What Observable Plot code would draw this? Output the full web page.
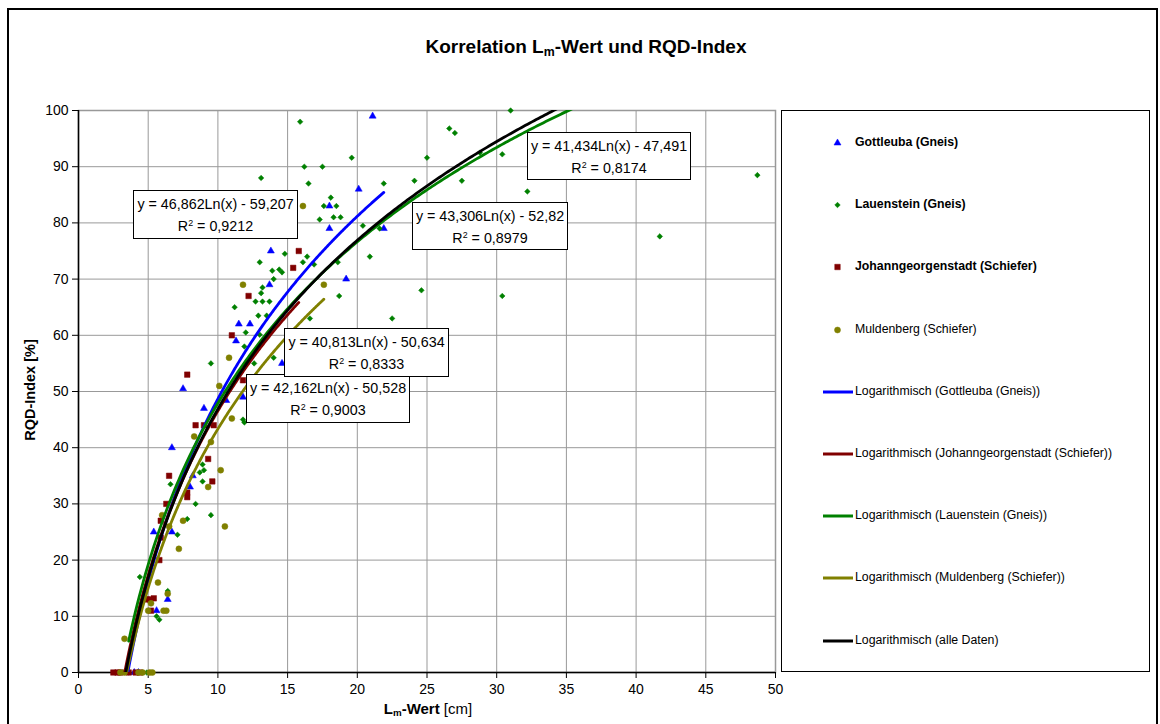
<!DOCTYPE html>
<html>
<head>
<meta charset="utf-8">
<script src="https://cdn.jsdelivr.net/npm/d3@7"></script>
<script src="https://cdn.jsdelivr.net/npm/@observablehq/plot@0.6"></script>
<style>
  body { margin: 0; background: #fff; font-family: "Liberation Sans", Arial, sans-serif; }
  #wrap { position: relative; width: 1160px; height: 724px; overflow: hidden; background: #fff; }
  #frame { position: absolute; left: 7px; top: 8px; width: 1147px; height: 800px; border: 2px solid #000; }
  #title { position: absolute; left: 0; width: 1172px; top: 36px; text-align: center; font-weight: bold; font-size: 19px; color: #000; }
  #title sub, #xlabel sub { font-size: 0.65em; vertical-align: -0.25em; }
  #chart { position: absolute; left: 0; top: 0; }
  #ylabel { position: absolute; left: 30px; top: 390px; transform: translate(-50%, -50%) rotate(-90deg); font-weight: bold; font-size: 14.5px; white-space: nowrap; }
  #xlabel { position: absolute; left: 428px; top: 709px; transform: translate(-50%, -50%); font-size: 15px; white-space: nowrap; }
  .eq { position: absolute; background: #fff; border: 1px solid #000; font-size: 14.3px; text-align: center; line-height: 22px; padding-top: 2px; box-sizing: border-box; white-space: nowrap; }
  .eq sup { font-size: 0.62em; vertical-align: 0.55em; line-height: 0; }
  #legend { position: absolute; left: 781px; top: 110px; width: 369px; height: 562px; border: 1px solid #000; box-sizing: border-box; background: #fff; }
  .li { position: absolute; left: 0; height: 16px; font-size: 12.3px; white-space: nowrap; }
  .li svg { position: absolute; left: 40px; top: 0; }
  .li span { position: absolute; left: 73px; top: 0px; }
</style>
</head>
<body>
<div id="wrap">
  <div id="frame"></div>
  <div id="title">Korrelation L<sub>m</sub>-Wert und RQD-Index</div>
  <div id="chart"></div>
  <div id="ylabel">RQD-Index [%]</div>
  <div id="xlabel"><b>L<sub>m</sub>-Wert</b> [cm]</div>
  <div id="legend"></div>
</div>
<script>
// ---------- data ----------
const gottleubaX = [21.1, 20.1, 18.0, 18.0, 21.9, 19.2, 13.8, 13.7, 11.5, 12.3, 11.3, 14.6, 7.5, 10.6, 11.8, 9.0, 6.7, 8.2, 8.0, 5.4, 6.7, 6.4, 5.6, 3.5, 4.0, 4.3];
const gottleubaY = [99, 86, 83, 79, 79, 70, 75, 69, 62, 62, 59, 55, 50.5, 48.4, 49, 47, 40, 35, 33, 25, 25, 13, 11, 0, 0, 0];

const lauensteinX = [31.0, 15.9, 26.6, 27.0, 19.6, 25.0, 16.2, 17.5, 30.4, 28.8, 13.1, 16.5, 21.9, 24.1, 27.5, 32.2, 48.7, 41.7, 18.1, 17.6, 18.5, 18.3, 18.8, 17.3, 20.4, 21.6, 14.8, 16.4, 16.1, 16.9, 18.6, 20.9, 13.0, 14.6, 13.9, 14.4, 14.0, 13.2, 13.1, 18.7, 24.6, 30.4, 22.5, 16.6, 12.7, 13.2, 13.7, 11.2, 12.9, 13.5, 12.0, 13.0, 11.9, 12.6, 14.0, 9.5, 11.8, 11.9, 8.9, 9.0, 8.7, 6.6, 8.9, 8.4, 9.5, 7.8, 7.1, 4.4, 6.4, 5.6, 5.8, 3.6, 4.9];
const lauensteinY = [100, 98, 96.8, 96, 91.6, 91.6, 90, 90, 92.2, 92.5, 88, 87, 87, 87.5, 87.5, 85.6, 88.5, 77.6, 84.5, 83, 83, 81, 81, 80.6, 79.5, 79, 74.5, 74, 73, 72.6, 73, 74, 73, 71.2, 71.5, 71.7, 70, 68.5, 67.5, 67, 68, 67, 63, 63, 66, 66, 66, 65, 63.5, 63.5, 60.5, 60.1, 58, 55, 56, 55, 45, 44.5, 37, 36, 35.6, 33.5, 34, 30, 28, 27.3, 24.5, 17, 14.5, 10, 9.4, 0, 0];

const johannX = [15.8, 15.4, 12.2, 11.0, 7.8, 11.8, 8.4, 9.0, 9.7, 9.3, 6.5, 9.6, 7.8, 7.8, 6.3, 5.9, 5.9, 5.8, 5.4, 5.1, 4.9, 5.2, 2.5, 2.8, 3.0, 3.6, 4.1, 4.4];
const johannY = [75, 72, 67, 60, 53, 52, 44, 44, 44, 38, 35, 34, 31.2, 32, 30, 27, 24, 20, 13.2, 13, 13, 11, 0, 0, 0, 0, 0, 0];

const muldenbergX = [16.1, 11.8, 17.6, 10.8, 10.1, 11.0, 8.3, 9.5, 10.2, 9.3, 10.5, 7.2, 7.5, 6.0, 6.5, 5.7, 5.2, 5.0, 6.1, 6.3, 6.4, 3.3, 3.0, 3.3, 4.3, 4.6, 5.1, 5.3];
const muldenbergY = [83, 69, 69, 56, 51, 45.2, 42, 41, 36, 33, 26, 22, 27, 28, 26, 16, 12.3, 11, 11, 11, 14, 6, 0, 0, 0, 0, 0, 0];

const seriesNames = ["Gottleuba (Gneis)", "Lauenstein (Gneis)", "Johanngeorgenstadt (Schiefer)", "Muldenberg (Schiefer)"];
const seriesColors = ["#0000ff", "#008000", "#800000", "#808000"];
const seriesSymbols = ["triangle", "diamond2", "square", "circle"];
const seriesR = [2.6, 2.5, 3.1, 3.0];

// trendlines (Logarithmisch): y = a*Ln(x) + b
const fitNames = ["Gottleuba (Gneis)", "Johanngeorgenstadt (Schiefer)", "Lauenstein (Gneis)", "Muldenberg (Schiefer)", "alle Daten"];
const fitA = [46.862, 42.162, 41.434, 40.813, 43.306];
const fitB = [-59.207, -50.528, -47.491, -50.634, -52.82];
const fitR2 = ["0,9212", "0,9003", "0,8174", "0,8333", "0,8979"];
const fitColors = ["#0000ff", "#800000", "#008000", "#808000", "#000000"];

const xTicks = [0, 5, 10, 15, 20, 25, 30, 35, 40, 45, 50];
const yTicks = [0, 10, 20, 30, 40, 50, 60, 70, 80, 90, 100];

// ---------- build tables ----------
const seriesXs = [gottleubaX, lauensteinX, johannX, muldenbergX];
const seriesYs = [gottleubaY, lauensteinY, johannY, muldenbergY];
const points = [];
seriesNames.forEach((name, i) => {
  seriesXs[i].forEach((x, j) => points.push({series: name, idx: i, x, y: seriesYs[i][j]}));
});

const fitSource = {
  "Gottleuba (Gneis)": gottleubaX,
  "Johanngeorgenstadt (Schiefer)": johannX,
  "Lauenstein (Gneis)": lauensteinX,
  "Muldenberg (Schiefer)": muldenbergX,
  "alle Daten": [].concat(gottleubaX, lauensteinX, johannX, muldenbergX)
};
const fitLines = fitNames.map((name, k) => {
  const xs = fitSource[name];
  const lo = d3.min(xs), hi = d3.max(xs), n = 300;
  return d3.range(n + 1).map(i => {
    const x = lo + (hi - lo) * i / n;
    return {fit: name, x, y: fitA[k] * Math.log(x) + fitB[k]};
  });
});

// ---------- plot ----------
const marks = [
  Plot.gridX(xTicks, {stroke: "#999", strokeOpacity: 1, strokeWidth: 1}),
  Plot.gridY(yTicks, {stroke: "#999", strokeOpacity: 1, strokeWidth: 1}),
  Plot.frame({stroke: "#999", strokeWidth: 1.5}),
  Plot.axisX({ticks: xTicks, tickSize: 6, tickPadding: 6, label: null, fontSize: 14}),
  Plot.axisY({ticks: yTicks, tickSize: 6, tickPadding: 4, label: null, fontSize: 14}),
  Plot.ruleX([0], {stroke: "#000", strokeWidth: 1.5}),
  Plot.ruleY([0], {stroke: "#000", strokeWidth: 1.5})
];
seriesNames.forEach((name, i) => {
  marks.push(Plot.dot(points.filter(d => d.idx === i), {
    x: "x", y: "y", symbol: () => seriesSymbols[i], r: seriesR[i],
    fill: seriesColors[i], stroke: seriesColors[i], strokeWidth: 0.5
  }));
});
fitLines.forEach((line, k) => {
  marks.push(Plot.line(line, {x: "x", y: "y", stroke: fitColors[k], strokeWidth: 2.8, clip: true}));
});

const chart = Plot.plot({
  width: 780, height: 724,
  marginLeft: 78, marginRight: 5, marginTop: 110, marginBottom: 52,
  x: {domain: [0, 50]},
  y: {domain: [0, 100]},
  symbol: {type: "identity"},
  style: {fontFamily: "'Liberation Sans', Arial, sans-serif", fontSize: "14px", background: "transparent", color: "#000", overflow: "visible"},
  marks
});
document.getElementById("chart").appendChild(chart);

// ---------- equation labels ----------
const eqLayout = {
  "Gottleuba (Gneis)": [133, 190, 165, 49],
  "alle Daten": [412, 202, 156, 48],
  "Lauenstein (Gneis)": [527, 132, 164, 48],
  "Johanngeorgenstadt (Schiefer)": [246, 374, 164, 49],
  "Muldenberg (Schiefer)": [284, 328, 165, 49]
};
const fmt = v => String(v).replace(".", ",");
const eqOrder = ["Gottleuba (Gneis)", "alle Daten", "Lauenstein (Gneis)", "Johanngeorgenstadt (Schiefer)", "Muldenberg (Schiefer)"];
const wrap = document.getElementById("wrap");
eqOrder.forEach(name => {
  const k = fitNames.indexOf(name);
  const [l, t, w, h] = eqLayout[name];
  const div = document.createElement("div");
  div.className = "eq";
  div.style.left = l + "px"; div.style.top = t + "px";
  div.style.width = w + "px"; div.style.height = h + "px";
  div.innerHTML = `y = ${fmt(fitA[k])}Ln(x) - ${fmt(Math.abs(fitB[k]))}<br>R<sup>2</sup> = ${fitR2[k]}`;
  wrap.insertBefore(div, document.getElementById("ylabel"));
});

// ---------- legend ----------
const legend = document.getElementById("legend");
const legendItems = [
  ...seriesNames.map((n, i) => ({label: n, type: "dot", i, bold: i < 3})),
  ...["Gottleuba (Gneis)", "Johanngeorgenstadt (Schiefer)", "Lauenstein (Gneis)", "Muldenberg (Schiefer)", "alle Daten"]
    .map(n => ({label: `Logarithmisch (${n})`, type: "line", k: fitNames.indexOf(n)}))
];
const symMap = {triangle: d3.symbolTriangle, diamond2: d3.symbolDiamond2, square: d3.symbolSquare, circle: d3.symbolCircle};
legendItems.forEach((it, j) => {
  const row = document.createElement("div");
  row.className = "li";
  row.style.top = (24 + j * 62.2) + "px";
  row.style.width = "360px";
  let svg;
  if (it.type === "dot") {
    const r = seriesR[it.i];
    const p = d3.symbol(symMap[seriesSymbols[it.i]], Math.PI * r * r)();
    svg = `<svg width="32" height="16"><path transform="translate(15.5,8)" d="${p}" fill="${seriesColors[it.i]}" stroke="${seriesColors[it.i]}" stroke-width="0.5"/></svg>`;
  } else {
    svg = `<svg width="32" height="16"><line x1="1" x2="31" y1="8" y2="8" stroke="${fitColors[it.k]}" stroke-width="3"/></svg>`;
  }
  row.innerHTML = svg + `<span style="font-weight:${it.bold ? "bold" : "normal"}">${it.label}</span>`;
  legend.appendChild(row);
});
</script>
</body>
</html>
